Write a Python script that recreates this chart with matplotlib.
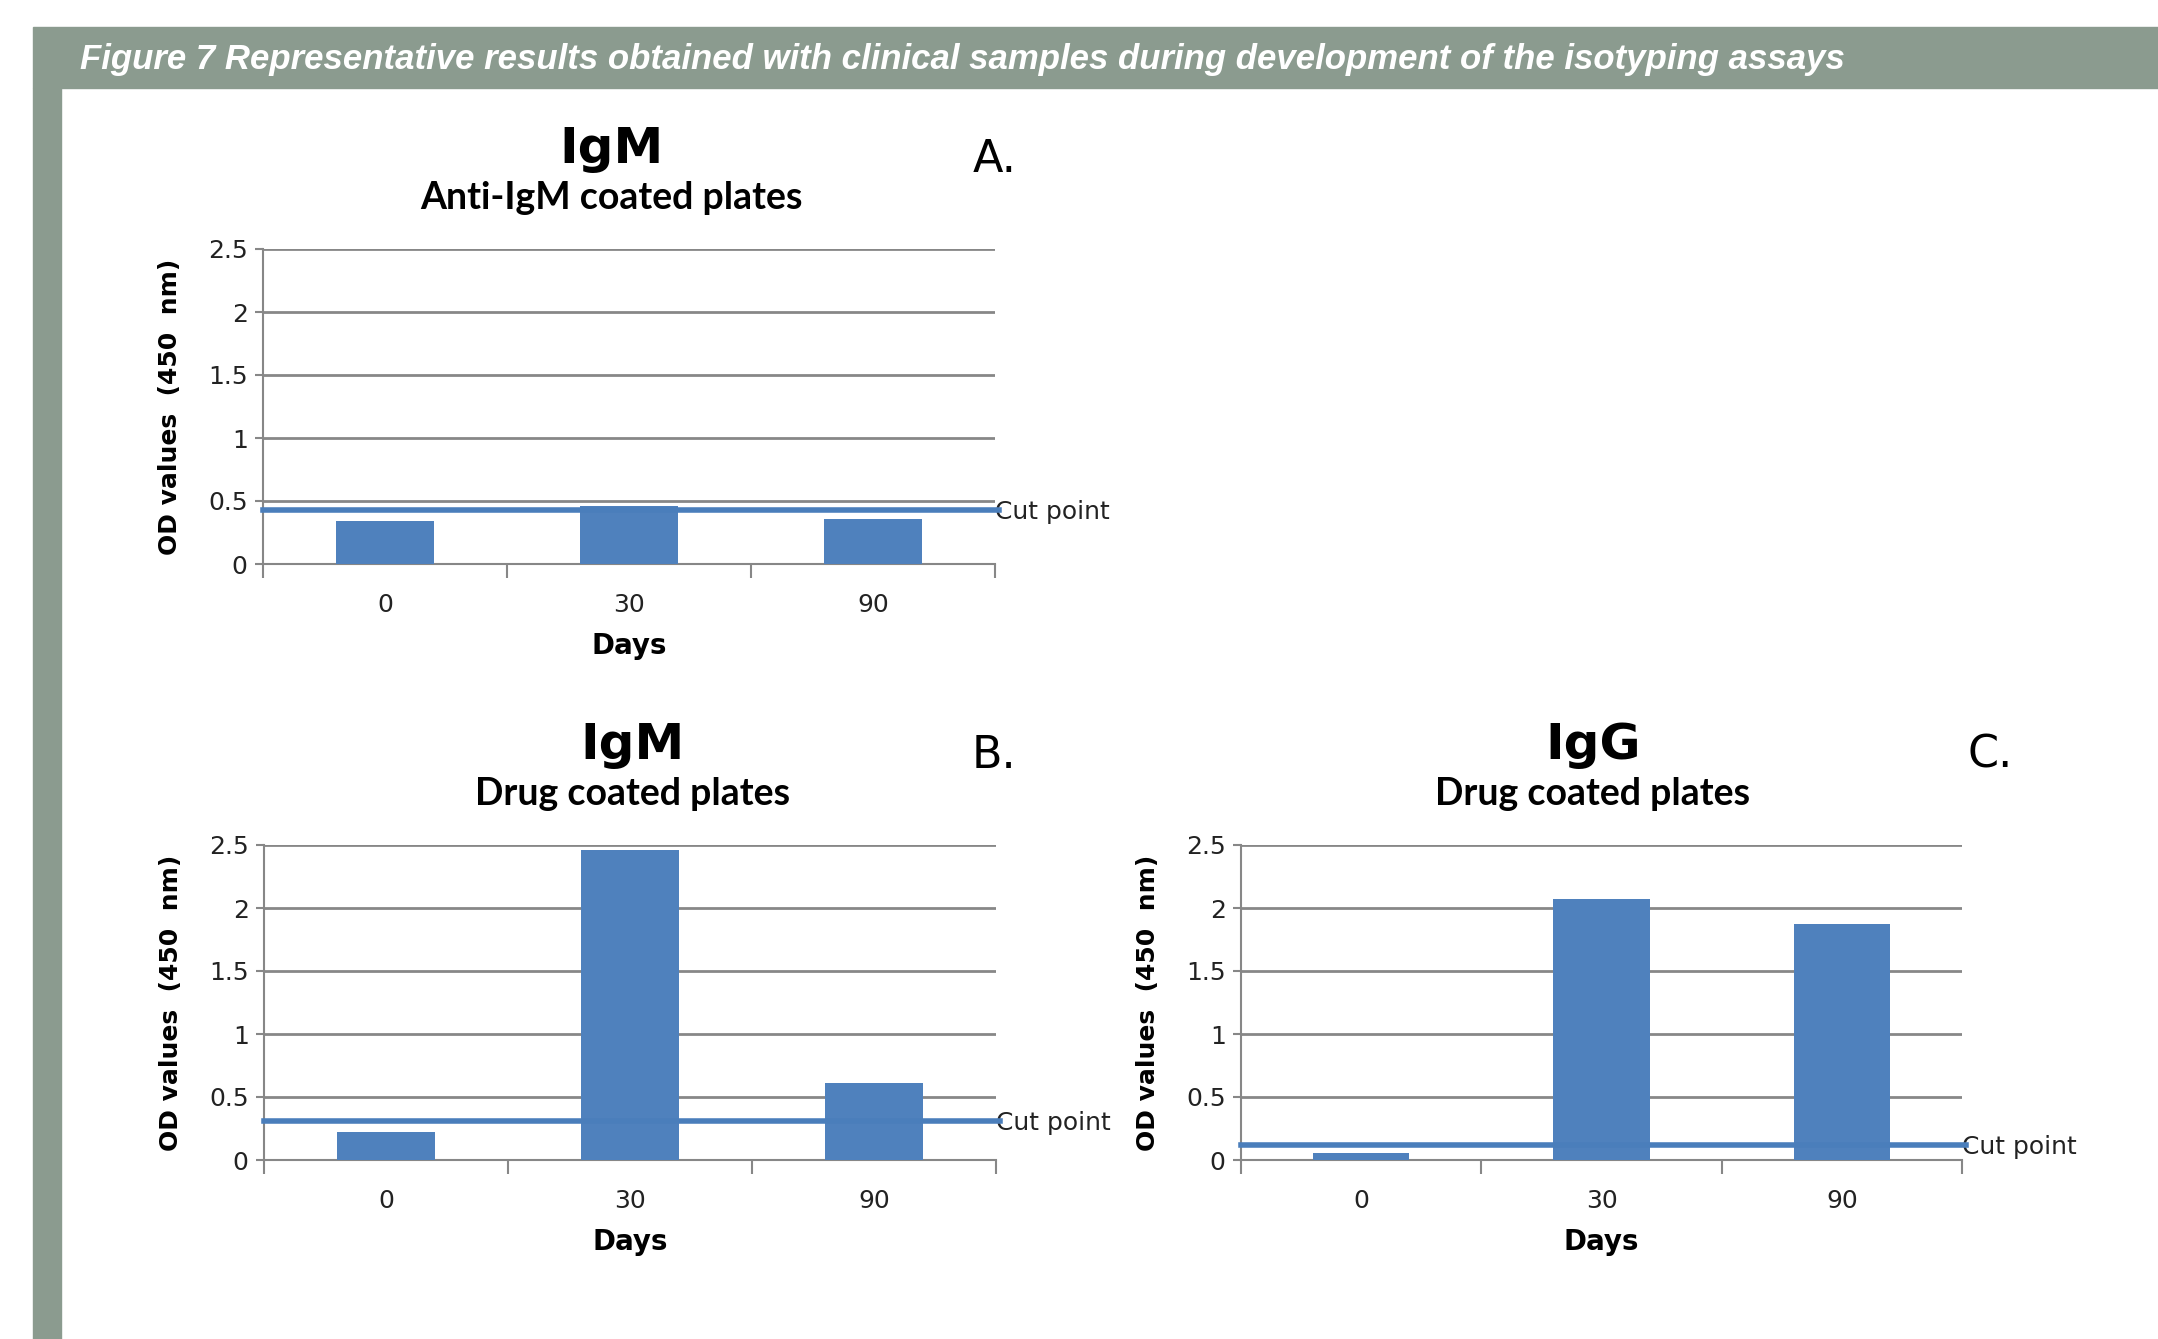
import matplotlib
matplotlib.use('Agg')
import matplotlib.pyplot as plt
from matplotlib.patches import Rectangle

# data
days = ['0', '30', '90']
igm_anti_od = [0.34, 0.46, 0.36]
igm_anti_cut = 0.43
igm_drug_od = [0.22, 2.46, 0.61]
igm_drug_cut = 0.31
igg_drug_od = [0.055, 2.07, 1.87]
igg_drug_cut = 0.12

BAR = '#4F81BD'
CUT = '#4A7EBB'
GRID = '#878787'
BANNER = '#8B9B8F'

W, H = 2158, 1339


def panel(fig, rect, values, cut, title, subtitle, letter, letter_x, title_dx):
	ax = fig.add_axes(rect)
	x = list(range(len(values)))
	ax.bar(x, values, width=0.4, color=BAR, zorder=3)
	ax.axhline(cut, color=CUT, lw=4, zorder=4, clip_on=False, xmax=1.005)
	ax.set_ylim(0, 2.5)
	ax.set_xlim(-0.5, len(values) - 0.5)
	ax.set_yticks([0, 0.5, 1, 1.5, 2, 2.5])
	ax.set_yticklabels(['0', '0.5', '1', '1.5', '2', '2.5'])
	ax.yaxis.grid(True, color=GRID, lw=2)
	ax.set_axisbelow(True)
	ax.set_xticks([i - 0.5 for i in range(len(values) + 1)])
	ax.set_xticklabels([])
	ax.set_xticks(x, minor=True)
	ax.set_xticklabels(days, minor=True)
	ax.tick_params(axis='x', which='major', length=10, width=1.5, color=GRID)
	ax.tick_params(axis='x', which='minor', length=0, pad=21, labelsize=18, labelcolor='#222222')
	ax.tick_params(axis='y', length=6, width=1.5, color=GRID, labelsize=18, labelcolor='#222222', pad=5)
	for s in ['top', 'right']:
		ax.spines[s].set_visible(False)
	for s in ['left', 'bottom']:
		ax.spines[s].set_color(GRID)
		ax.spines[s].set_linewidth(1.5)
	ax.text(1.0, cut - 0.02, 'Cut point', transform=ax.get_yaxis_transform(), va='center',
		ha='left', fontsize=18, color='#222222')

	l, b, w, h = rect
	cx = l + w / 2
	fig.text(cx + title_dx, b + h + 0.075, title, ha='center', va='center', fontsize=36, fontweight='bold')
	fig.text(cx + title_dx, b + h + 0.038, subtitle, ha='center', va='center', fontsize=27,
		fontweight='bold', family='Lato')
	fig.text(letter_x, b + h + 0.067, letter, ha='center', va='center', fontsize=32)
	fig.text(l - 0.043, b + h / 2, 'OD values  (450  nm)', rotation=90, ha='center', va='center',
		fontsize=18, fontweight='bold')
	fig.text(cx, b - 0.061, 'Days', ha='center', va='center', fontsize=20, fontweight='bold')
	return ax


def main():
	fig = plt.figure(figsize=(W / 100, H / 100), dpi=100)
	fig.patch.set_facecolor('white')

	# banner and left strip
	fig.patches.append(Rectangle((33 / W, 1 - 88 / H), 1, 60.5 / H, transform=fig.transFigure,
		color=BANNER, zorder=0))
	fig.patches.append(Rectangle((33 / W, 0), 27.5 / W, 1 - 88 / H, transform=fig.transFigure,
		color=BANNER, zorder=0))
	fig.text(80 / W, 1 - 59 / H,
		'Figure 7 Representative results obtained with clinical samples during development of the isotyping assays',
		color='white', fontsize=25, fontweight='bold', style='italic', family='Liberation Sans',
		va='center', ha='left')

	panel(fig, [263 / W, 1 - 564 / H, 732 / W, 315 / H], igm_anti_od, igm_anti_cut,
		'IgM', 'Anti-IgM coated plates', 'A.', 995 / W, -0.008)
	panel(fig, [264 / W, 1 - 1160 / H, 732 / W, 315 / H], igm_drug_od, igm_drug_cut,
		'IgM', 'Drug coated plates', 'B.', 994 / W, 0.001)
	panel(fig, [1241 / W, 1 - 1160 / H, 721 / W, 315 / H], igg_drug_od, igg_drug_cut,
		'IgG', 'Drug coated plates', 'C.', 1990 / W, -0.004)

	fig.savefig('out.png', dpi=100)


if __name__ == '__main__':
	main()
